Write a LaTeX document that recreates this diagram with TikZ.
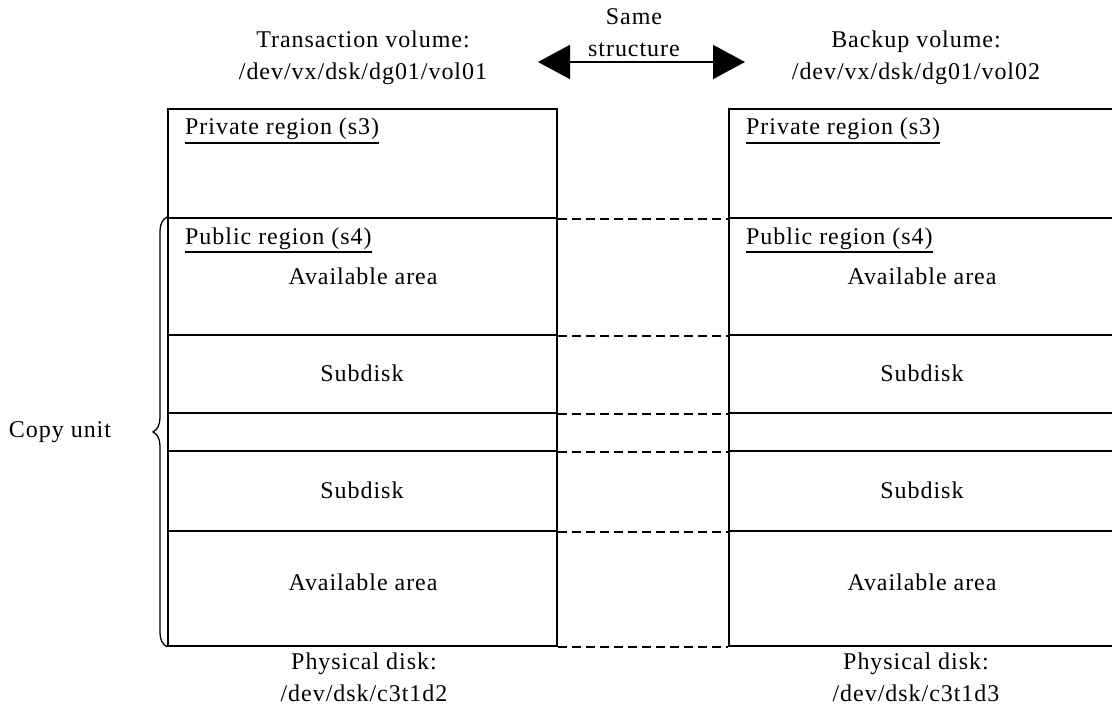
\documentclass[tikz,border=0pt]{standalone}
\usepackage{fontspec}
\setmainfont{Liberation Serif}[LetterSpace=4]
\usetikzlibrary{arrows.meta,decorations.pathreplacing,calc}
\begin{document}
\begin{tikzpicture}[x=1pt,y=-1pt,
  txt/.style={font=\fontsize{24}{32}\selectfont, inner sep=0pt, align=center},
  lseg/.style={draw, line width=1.8pt, minimum width=389pt, inner sep=0pt, anchor=north west},
  rseg/.style={draw, line width=1.8pt, minimum width=420pt, inner sep=0pt, anchor=north west},
  dashl/.style={line width=1.8pt, dash pattern=on 9pt off 5pt},
  ulabel/.style={txt, anchor=base west},
  uline/.style={line width=1.8pt},
  bracestyle/.style={line width=1.3pt, decorate, decoration={brace, amplitude=14pt}},
  bigarrow/.style={line width=1.8pt, {Triangle[length=32pt,width=34pt]}-{Triangle[length=32pt,width=34pt]}}
]
\useasboundingbox (0,0) rectangle (1112,706);
\clip (0,0) rectangle (1112,706);

% titles
\node[txt] (ttl) at (363,58) {Transaction volume:\\/dev/vx/dsk/dg01/vol01};
\node[txt] (ttr) at (916,58) {Backup volume:\\/dev/vx/dsk/dg01/vol02};
\node[txt] (same) at (634,33) {Same\\structure};
\coordinate (aL) at (538,62);
\coordinate (aR) at (745,62);
\draw[bigarrow] (aL) -- (aR);

% left disk
\node[lseg, minimum height=109pt] (Lpriv) at (167,108) {};
\node[lseg, minimum height=117pt] (Lpub) at (167,217) {};
\node[lseg, minimum height=78pt] (Lsub1) at (167,334) {};
\node[lseg, minimum height=38pt] (Lgap) at (167,412) {};
\node[lseg, minimum height=80pt] (Lsub2) at (167,450) {};
\node[lseg, minimum height=115pt] (Lav2) at (167,530) {};

% right disk
\node[rseg, minimum height=109pt] (Rpriv) at (728,108) {};
\node[rseg, minimum height=117pt] (Rpub) at (728,217) {};
\node[rseg, minimum height=78pt] (Rsub1) at (728,334) {};
\node[rseg, minimum height=38pt] (Rgap) at (728,412) {};
\node[rseg, minimum height=80pt] (Rsub2) at (728,450) {};
\node[rseg, minimum height=115pt] (Rav2) at (728,530) {};

% dashed links
\foreach \s in {priv,pub,sub1,gap,sub2,av2}{
  \draw[dashl] (L\s.south east) -- (R\s.south west);
}

% left labels
\node[ulabel] (lpl) at (185,135) {Private region (s3)};
\draw[uline] ($(lpl.base west)+(0,8)$) -- ($(lpl.base east)+(0,8)$);
\node[ulabel] (lpu) at (185,244) {Public region (s4)};
\draw[uline] ($(lpu.base west)+(0,8)$) -- ($(lpu.base east)+(0,8)$);
\node[txt] (la1) at (363,276) {Available area};
\node[txt] (ls1) at (362,373) {Subdisk};
\node[txt] (ls2) at (362,490) {Subdisk};
\node[txt] (la2) at (363,582) {Available area};

% right labels
\node[ulabel] (rpl) at (746,135) {Private region (s3)};
\draw[uline] ($(rpl.base west)+(0,8)$) -- ($(rpl.base east)+(0,8)$);
\node[ulabel] (rpu) at (746,244) {Public region (s4)};
\draw[uline] ($(rpu.base west)+(0,8)$) -- ($(rpu.base east)+(0,8)$);
\node[txt] (ra1) at (922,276) {Available area};
\node[txt] (rs1) at (922,373) {Subdisk};
\node[txt] (rs2) at (922,490) {Subdisk};
\node[txt] (ra2) at (922,582) {Available area};

% bottom labels
\node[txt] (pdl) at (364,677) {Physical disk:\\/dev/dsk/c3t1d2};
\node[txt] (pdr) at (916,677) {Physical disk:\\/dev/dsk/c3t1d3};

% brace
\draw[bracestyle] (Lav2.south west) -- (Lpub.north west);
\node[txt] (cu) at (60,432) {Copy unit};
\end{tikzpicture}
\end{document}
